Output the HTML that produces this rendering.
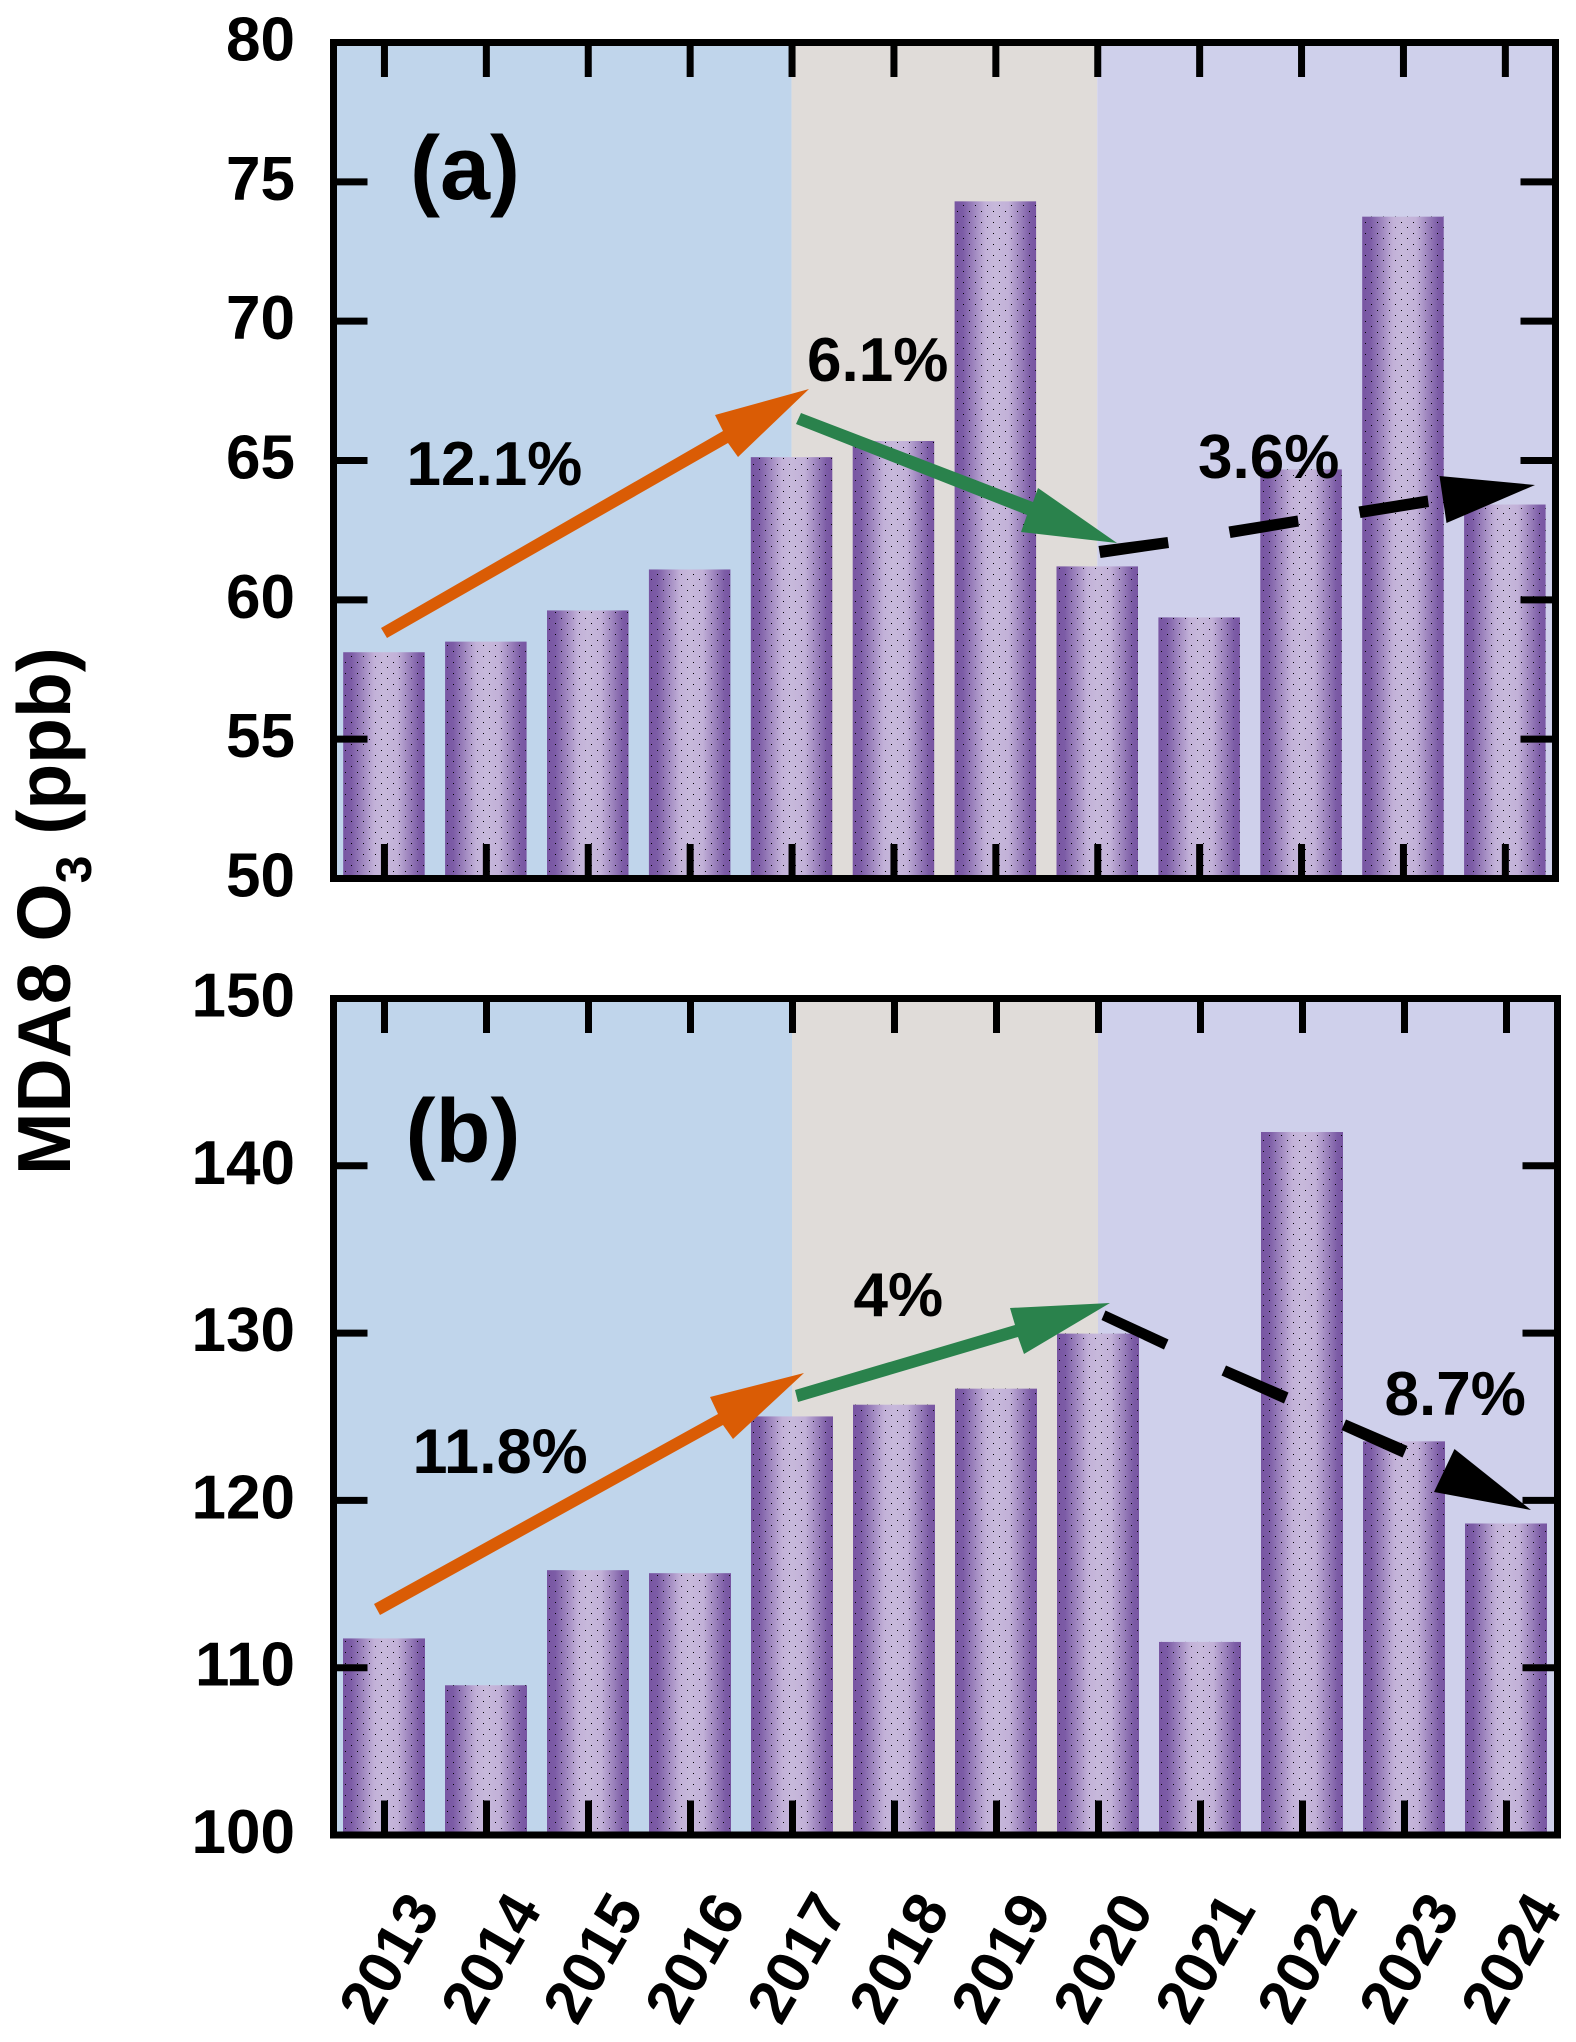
<!DOCTYPE html>
<html lang="en">
<head>
<meta charset="utf-8">
<title>MDA8 O3 bar charts</title>
<style>
html,body{margin:0;padding:0;background:#fff;}
svg{display:block;}
text{font-family:"Liberation Sans",Arial,sans-serif;font-weight:bold;fill:#000;}
</style>
</head>
<body>
<svg id="chart" xmlns="http://www.w3.org/2000/svg" width="1576" height="2042" viewBox="0 0 1576 2042">
<defs>
<linearGradient id="barGrad" x1="0" x2="1" y1="0" y2="0">
<stop offset="0" stop-color="#7855a2"/>
<stop offset="0.1" stop-color="#7c5ca6"/>
<stop offset="0.38" stop-color="#c2b1d8"/>
<stop offset="0.5" stop-color="#c7b9db"/>
<stop offset="0.66" stop-color="#c2b1d8"/>
<stop offset="0.93" stop-color="#7c5ca6"/>
<stop offset="1" stop-color="#7855a2"/>
</linearGradient>
<pattern id="barDots" patternUnits="userSpaceOnUse" x="343" y="0" width="12" height="11">
<rect x="2" y="2" width="1" height="1" fill="#000" shape-rendering="crispEdges"/>
<rect x="8" y="7" width="1" height="1" fill="#000" shape-rendering="crispEdges"/>
</pattern>
</defs>
<g id="layer-a"></g>
<g id="layer-b"></g>

<g>
<polygon fill="#da5c05" points="381,628 723,431 715,415 809,389 738,457 728,443 387,638"/>
<polygon fill="#2a824c" points="801,413 1033,502 1038,488 1117,543 1021,532 1027,515 796,424"/>
<g fill="#000">
<polygon points="1098.5,546 1167.5,537 1169,548 1100.5,558"/>
<polygon points="1228.5,526.5 1297.5,515.5 1299,526.5 1230.5,538"/>
<polygon points="1358.5,506.5 1427.5,495.5 1429,507 1360.5,518"/>
<polygon points="1439.5,476 1535,485 1446.5,523"/>
</g>
<text x="410" y="199" font-size="90">(a)</text>
<text x="406.5" y="485" font-size="62">12.1%</text>
<text x="807" y="381" font-size="62">6.1%</text>
<text x="1198" y="478" font-size="62">3.6%</text>
</g>

<g>
<polygon fill="#da5c05" points="374,1604 718,1414 710,1397 804,1373 733,1439 723,1425 380,1615"/>
<polygon fill="#2a824c" points="795,1390 1015,1325 1010,1308 1110,1303 1024,1354 1018,1337 798,1402"/>
<g fill="#000">
<polygon points="1105.5,1310.5 1168.5,1339.5 1164,1349.5 1101.5,1320"/>
<polygon points="1226,1365.5 1288.5,1392.5 1284,1403.5 1221.5,1375.5"/>
<polygon points="1346,1419.5 1407.5,1446 1402.5,1457.5 1341.5,1430"/>
<polygon points="1454.5,1449 1531,1510 1434,1492"/>
</g>
<text x="405.5" y="1162" font-size="90">(b)</text>
<text x="412.5" y="1473" font-size="63">11.8%</text>
<text x="853.5" y="1316" font-size="62">4%</text>
<text x="1384.5" y="1415" font-size="62">8.7%</text>
</g>

<text transform="translate(70 1175) rotate(-90)" font-size="75">MDA8 O<tspan font-size="50" dy="21">3</tspan><tspan dy="-21"> (ppb)</tspan></text>
<g id="x-labels"></g>
</svg>

<script>
// Chart data
const years = [2013, 2014, 2015, 2016, 2017, 2018, 2019, 2020, 2021, 2022, 2023, 2024];
const valuesA = [58.12, 58.5, 59.62, 61.09, 65.12, 65.7, 74.3, 61.2, 59.37, 64.68, 73.75, 63.42];
const valuesB = [111.75, 108.95, 115.83, 115.65, 125.02, 125.72, 126.68, 129.97, 111.54, 142.02, 123.53, 118.62];
const ticksA = [50, 55, 60, 65, 70, 75, 80];
const ticksB = [100, 110, 120, 130, 140, 150];
const periodStartYears = [2013, 2017, 2020];
const periodColors = ['#c0d5eb', '#e0dcd9', '#cfd0eb'];

const NS = 'http://www.w3.org/2000/svg';
function make(tag, attrs, parent) {
  const el = document.createElementNS(NS, tag);
  for (const k in attrs) el.setAttribute(k, attrs[k]);
  parent.appendChild(el);
  return el;
}

function drawPanel(cfg) {
  const g = document.getElementById(cfg.layer);
  const sw = 7;
  const xCenter = i => cfg.origin + (i + 0.5) * cfg.step;
  const y = v => cfg.bottom - (v - cfg.min) / (cfg.max - cfg.min) * (cfg.bottom - cfg.top);
  const left = cfg.left;
  const right = cfg.right;

  // background periods
  periodStartYears.forEach((yr, k) => {
    const x0 = k === 0 ? left : xCenter(years.indexOf(yr));
    const x1 = k === periodStartYears.length - 1 ? right : xCenter(years.indexOf(periodStartYears[k + 1]));
    const band = make('rect', { x: x0, y: cfg.top, width: x1 - x0, height: cfg.bottom - cfg.top, fill: periodColors[k] }, g);
    
    
  });

  // bars
  cfg.values.forEach((v, i) => {
    const bx = xCenter(i) - cfg.barWidth / 2;
    const bar = make('rect', { x: bx, y: y(v), width: cfg.barWidth, height: y(cfg.min) - y(v), fill: 'url(#barGrad)' }, g);
    
    
    const dots = make('rect', { x: bx, y: y(v), width: cfg.barWidth, height: y(cfg.min) - y(v), fill: 'url(#barDots)' }, g);
    
    
  });

  // x ticks (top and bottom)
  years.forEach((yr, i) => {
    const tx = xCenter(i) + 0.5;
    const t1 = make('line', { x1: tx, x2: tx, y1: cfg.top, y2: cfg.top + 34.5, stroke: '#000', 'stroke-width': sw }, g);
    
    
    const t2 = make('line', { x1: tx, x2: tx, y1: cfg.bottom, y2: cfg.bottom - 34.5, stroke: '#000', 'stroke-width': sw }, g);
    
    
  });

  // y ticks + labels
  cfg.ticks.forEach(v => {
    const ty = y(v);
    const l = make('line', { x1: left, x2: left + 34, y1: ty, y2: ty, stroke: '#000', 'stroke-width': sw }, g);
    
    
    const r = make('line', { x1: right, x2: right - 35, y1: ty, y2: ty, stroke: '#000', 'stroke-width': sw }, g);
    
    
    const label = make('text', { x: 295, y: ty + 18, 'text-anchor': 'end', 'font-size': 62 }, g);
    label.textContent = v;
    
    
  });

  // frame
  const frame = make('rect', { x: left, y: cfg.top, width: right - left, height: cfg.bottom - cfg.top, fill: 'none', stroke: '#000', 'stroke-width': sw }, g);
  
  

  return xCenter;
}

drawPanel({ id: 'a', layer: 'layer-a', origin: 333, left: 333.5, right: 1555.5, step: 101.9, top: 42.5, bottom: 878.5, min: 50, max: 80, values: valuesA, ticks: ticksA, barWidth: 81.5 });
const xB = drawPanel({ id: 'b', layer: 'layer-b', origin: 333, left: 333.5, right: 1557.5, step: 102, top: 998.5, bottom: 1835, min: 100, max: 150, values: valuesB, ticks: ticksB, barWidth: 82 });

// rotated year labels
const xLabels = document.getElementById('x-labels');
years.forEach((yr, i) => {
  const t = make('text', { transform: 'translate(' + (xB(i) - 11) + ' 2027) rotate(-60)', 'font-size': 61 }, xLabels);
  t.textContent = yr;
  
  
});
</script>
</body>
</html>
